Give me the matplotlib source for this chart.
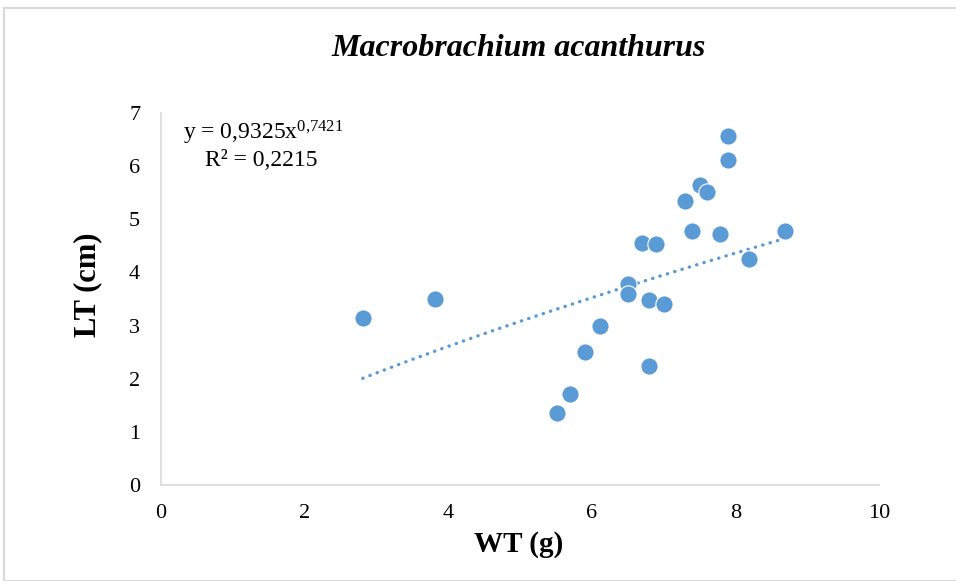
import numpy as np
import matplotlib
matplotlib.use('Agg')
import matplotlib.pyplot as plt
from matplotlib.patches import Rectangle

plt.rcParams['font.family'] = ['Liberation Serif', 'DejaVu Serif']
plt.rcParams['mathtext.fontset'] = 'custom'
plt.rcParams['mathtext.rm'] = 'Liberation Serif'
plt.rcParams['mathtext.it'] = 'Liberation Serif:italic'

# weight (g) and total length (cm)
wt = [2.81, 3.81, 5.51, 5.70, 5.91, 6.11, 6.51, 6.51, 6.80, 6.80, 7.00,
      6.70, 6.90, 7.30, 7.40, 7.50, 7.61, 7.79, 7.90, 7.90, 8.19, 8.69]
lt = [3.14, 3.50, 1.35, 1.71, 2.50, 2.99, 3.79, 3.60, 2.24, 3.48, 3.40,
      4.56, 4.54, 5.35, 4.78, 5.64, 5.51, 4.73, 6.11, 6.57, 4.25, 4.78]

# power trendline shown on the chart
coef_a = 0.9325
coef_b = 0.7421

blue = '#5B9BD5'
W, H = 956, 581

fig = plt.figure(figsize=(9.56, 5.81), dpi=100)
ax = fig.add_axes([161/W, 1 - 485/H, (879-161)/W, (485-113)/H])

ax.scatter(wt, lt, s=155, color=blue, edgecolors='white', linewidths=0.8, zorder=3)

xt = np.linspace(min(wt), max(wt), 200)
ax.plot(xt, coef_a * xt ** coef_b, color=blue, lw=2.4, ls=(0, (0.1, 2.2)),
        dash_capstyle='round', zorder=2)

ax.set_xlim(0, 10)
ax.set_ylim(0, 7)
ax.set_xticks(range(0, 11, 2))
ax.set_yticks(range(0, 8))
ax.tick_params(axis='x', length=0, labelsize=16, colors='#000000', pad=14)
ax.tick_params(axis='y', length=0, labelsize=16, colors='#000000', pad=15)

for s in ['top', 'right']:
    ax.spines[s].set_visible(False)
for s in ['bottom', 'left']:
    ax.spines[s].set_color('#D9D9D9')
    ax.spines[s].set_linewidth(1.2)

fig.text(519/W, 1 - 48/H, 'Macrobrachium acanthurus', fontsize=23,
         fontweight='bold', style='italic', ha='center', va='center')
fig.text(519/W, 1 - 545/H, 'WT (g)', fontsize=21, fontweight='bold',
         ha='center', va='center')
fig.text(88/W, 1 - 285/H, 'LT (cm)', fontsize=22, fontweight='bold',
         ha='center', va='center', rotation=90)

fig.text(183/W, 1 - 133/H, r'y = 0,9325x$^{\mathrm{0{,}7421}}$',
         fontsize=17, va='center', ha='left')
fig.text(205/W, 1 - 160/H, 'R² = 0,2215', fontsize=17, va='center', ha='left')

# outer chart border
fig.patches.append(Rectangle((4/W, 0), 1, 1 - 8/H, transform=fig.transFigure,
                             fill=False, edgecolor='#D9D9D9', lw=1.5))

fig.savefig('out.png', dpi=100)
